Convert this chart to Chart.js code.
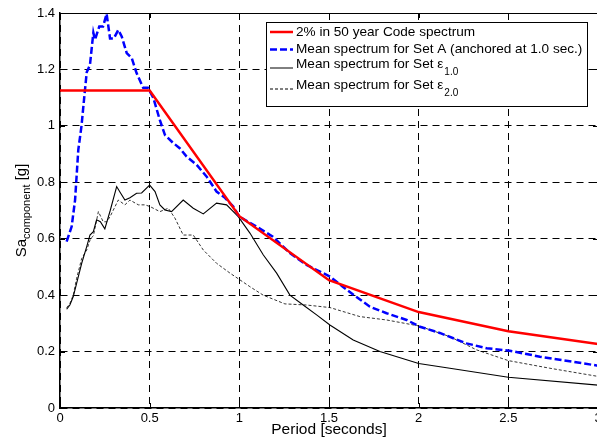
<!DOCTYPE html>
<html>
<head>
<meta charset="utf-8">
<script src="https://cdn.jsdelivr.net/npm/chart.js@4"></script>
<style>
  html, body { margin: 0; padding: 0; background: #fff; overflow: hidden; }
  #wrap { position: relative; width: 597px; height: 440px; overflow: hidden; }
  canvas { position: absolute; left: 0; top: 0; }
</style>
</head>
<body>
<div id="wrap"><canvas id="chartSpektrum" width="610" height="440"></canvas></div>
<script>
// Data spektrum (periode dalam detik, Sa dalam g)
const codeT  = [0, 0.5, 1.0, 1.5, 2.0, 2.5, 3.0];
const codeSa = [1.125, 1.125, 0.68, 0.453, 0.34, 0.272, 0.227];

const setAT  = [0.037, 0.065, 0.084, 0.102, 0.12, 0.135, 0.149, 0.167, 0.186, 0.195, 0.219, 0.24, 0.26, 0.279, 0.30, 0.325, 0.344, 0.372, 0.40, 0.427, 0.464, 0.49, 0.52, 0.557, 0.585, 0.63, 0.669, 0.706, 0.762, 0.818, 0.873, 0.92, 0.966, 1.0, 1.096, 1.187, 1.282, 1.375, 1.505, 1.577, 1.65, 1.728, 1.821, 1.933, 2.007, 2.118, 2.267, 2.379, 2.508, 2.676, 3.0];
const setASa = [0.59, 0.643, 0.737, 0.915, 1.0, 1.10, 1.19, 1.216, 1.33, 1.305, 1.352, 1.352, 1.397, 1.31, 1.31, 1.34, 1.317, 1.258, 1.24, 1.187, 1.135, 1.135, 1.10, 1.02, 0.968, 0.94, 0.92, 0.891, 0.862, 0.82, 0.767, 0.745, 0.714, 0.678, 0.643, 0.607, 0.549, 0.507, 0.466, 0.43, 0.395, 0.359, 0.336, 0.312, 0.288, 0.266, 0.229, 0.212, 0.203, 0.182, 0.15];

const eps1T  = [0.037, 0.055, 0.074, 0.093, 0.121, 0.149, 0.167, 0.186, 0.204, 0.225, 0.25, 0.28, 0.316, 0.335, 0.362, 0.39, 0.427, 0.455, 0.5, 0.53, 0.557, 0.585, 0.622, 0.687, 0.743, 0.799, 0.873, 0.929, 0.994, 1.059, 1.133, 1.208, 1.282, 1.356, 1.431, 1.505, 1.635, 1.784, 2.0, 2.174, 2.5, 3.0];
const eps1Sa = [0.35, 0.365, 0.395, 0.443, 0.513, 0.572, 0.613, 0.625, 0.667, 0.66, 0.635, 0.70, 0.785, 0.765, 0.737, 0.745, 0.761, 0.762, 0.79, 0.767, 0.72, 0.702, 0.696, 0.737, 0.708, 0.688, 0.726, 0.72, 0.678, 0.62, 0.543, 0.478, 0.40, 0.365, 0.33, 0.294, 0.241, 0.20, 0.158, 0.141, 0.109, 0.081];

const eps2T  = [0.037, 0.055, 0.074, 0.093, 0.121, 0.149, 0.17, 0.186, 0.214, 0.241, 0.26, 0.279, 0.325, 0.362, 0.39, 0.437, 0.474, 0.502, 0.557, 0.604, 0.641, 0.687, 0.743, 0.799, 0.873, 0.948, 1.059, 1.133, 1.254, 1.375, 1.505, 1.672, 1.821, 2.0, 2.174, 2.323, 2.5, 2.731, 3.0];
const eps2Sa = [0.355, 0.37, 0.40, 0.46, 0.53, 0.56, 0.60, 0.61, 0.696, 0.66, 0.66, 0.678, 0.737, 0.72, 0.737, 0.72, 0.72, 0.714, 0.696, 0.708, 0.673, 0.613, 0.613, 0.56, 0.513, 0.478, 0.43, 0.40, 0.369, 0.365, 0.356, 0.324, 0.312, 0.291, 0.253, 0.206, 0.168, 0.141, 0.112];

const xTicks = [0, 0.5, 1, 1.5, 2, 2.5, 3];
const yTicks = [0, 0.2, 0.4, 0.6, 0.8, 1, 1.2, 1.4];

// Fungsi untuk menggabungkan array x dan y jadi titik
function toPoints(xs, ys) {
  return xs.map((x, i) => ({ x: x, y: ys[i] }));
}

const FONT = 'Arial, "Liberation Sans", sans-serif';

// Legenda: teks utama dan subskrip (epsilon)
const legendItems = [
  { text: '2% in 50 year Code spectrum', sub: '', color: '#ff0000', width: 2.5, dash: [] },
  { text: 'Mean spectrum for Set A (anchored at 1.0 sec.)', sub: '', color: '#0000ff', width: 2.5, dash: [7, 3] },
  { text: 'Mean spectrum for Set \u03b5', sub: '1.0', color: '#000000', width: 1, dash: [] },
  { text: 'Mean spectrum for Set \u03b5', sub: '2.0', color: '#000000', width: 1, dash: [3, 2] }
];

// Plugin untuk bingkai, tick ke dalam, judul sumbu dan legenda gaya MATLAB
const matlabStyle = {
  id: 'matlabStyle',
  afterDraw(chart) {
    const ctx = chart.ctx;
    const area = chart.chartArea;
    const xs = chart.scales.x;
    const ys = chart.scales.y;
    ctx.save();

    // bingkai atas dan kanan
    ctx.strokeStyle = '#000';
    ctx.lineWidth = 1;
    ctx.setLineDash([]);
    ctx.beginPath();
    ctx.moveTo(area.left, area.top + 0.5);
    ctx.lineTo(area.right, area.top + 0.5);
    ctx.moveTo(area.right - 0.5, area.top);
    ctx.lineTo(area.right - 0.5, area.bottom);
    ctx.stroke();

    // tick ke dalam
    ctx.beginPath();
    xTicks.forEach(v => {
      const px = Math.round(xs.getPixelForValue(v)) + 0.5;
      ctx.moveTo(px, area.bottom); ctx.lineTo(px, area.bottom - 5);
      ctx.moveTo(px, area.top); ctx.lineTo(px, area.top + 5);
    });
    yTicks.forEach(v => {
      const py = Math.round(ys.getPixelForValue(v)) + 0.5;
      ctx.moveTo(area.left, py); ctx.lineTo(area.left + 5, py);
      ctx.moveTo(area.right, py); ctx.lineTo(area.right - 5, py);
    });
    ctx.stroke();

    // judul sumbu x
    ctx.fillStyle = '#000';
    ctx.font = '15.5px ' + FONT;
    ctx.textAlign = 'center';
    ctx.textBaseline = 'alphabetic';
    ctx.fillText('Period [seconds]', (area.left + area.right) / 2, 434);

    // judul sumbu y dengan subskrip
    ctx.save();
    ctx.translate(26, (area.top + area.bottom) / 2);
    ctx.rotate(-Math.PI / 2);
    const main1 = 'Sa', sub1 = 'component', main2 = ' [g]';
    ctx.font = '15px ' + FONT;
    const w1 = ctx.measureText(main1).width;
    const w3 = ctx.measureText(main2).width;
    ctx.font = '11px ' + FONT;
    const w2 = ctx.measureText(sub1).width;
    let sx = -(w1 + w2 + w3) / 2;
    ctx.textAlign = 'left';
    ctx.font = '15px ' + FONT;
    ctx.fillText(main1, sx, 0);
    sx += w1;
    ctx.font = '11px ' + FONT;
    ctx.fillText(sub1, sx, 4);
    sx += w2;
    ctx.font = '15px ' + FONT;
    ctx.fillText(main2, sx, 0);
    ctx.restore();

    // legenda
    const lx = 266.5, ly = 22.5, lw = 321, lh = 84;
    ctx.fillStyle = '#fff';
    ctx.fillRect(lx, ly, lw, lh);
    ctx.strokeStyle = '#000';
    ctx.lineWidth = 1;
    ctx.strokeRect(lx, ly, lw, lh);
    const rowsY = [32, 49.5, 68, 89];
    legendItems.forEach((item, i) => {
      const y = rowsY[i];
      ctx.strokeStyle = item.color;
      ctx.lineWidth = item.width;
      ctx.setLineDash(item.dash);
      ctx.beginPath();
      ctx.moveTo(270, y);
      ctx.lineTo(293, y);
      ctx.stroke();
      ctx.setLineDash([]);
      ctx.fillStyle = '#000';
      ctx.font = '13.6px ' + FONT;
      ctx.textAlign = 'left';
      ctx.textBaseline = 'middle';
      const tyOff = item.sub ? -4 : 0;
      ctx.fillText(item.text, 296, y + tyOff);
      if (item.sub) {
        const tw = ctx.measureText(item.text).width;
        ctx.font = '10px ' + FONT;
        ctx.fillText(item.sub, 296 + tw + 1, y + 4);
      }
    });
    ctx.restore();
  }
};

const ctx = document.getElementById('chartSpektrum').getContext('2d');
const myChart = new Chart(ctx, {
  type: 'line',
  data: {
    datasets: [
      {
        label: '2% in 50 year Code spectrum',
        data: toPoints(codeT, codeSa),
        borderColor: '#ff0000',
        borderWidth: 2.5,
        pointRadius: 0,
        tension: 0
      },
      {
        label: 'Mean spectrum for Set A (anchored at 1.0 sec.)',
        data: toPoints(setAT, setASa),
        borderColor: '#0000ff',
        borderWidth: 2.5,
        borderDash: [7, 3],
        pointRadius: 0,
        tension: 0
      },
      {
        label: 'Mean spectrum for Set e1.0',
        data: toPoints(eps1T, eps1Sa),
        borderColor: '#000000',
        borderWidth: 1.1,
        pointRadius: 0,
        tension: 0
      },
      {
        label: 'Mean spectrum for Set e2.0',
        data: toPoints(eps2T, eps2Sa),
        borderColor: '#000000',
        borderWidth: 0.8,
        borderDash: [3, 2],
        pointRadius: 0,
        tension: 0
      }
    ]
  },
  options: {
    responsive: false,
    animation: false,
    layout: { padding: { left: 0, top: 13, right: 12, bottom: 0 } },
    plugins: {
      legend: { display: false },
      tooltip: { enabled: false },
      title: { display: false }
    },
    scales: {
      x: {
        type: 'linear',
        min: 0,
        max: 3,
        afterFit: s => { s.height = 32; },
        afterBuildTicks: s => { s.ticks = xTicks.map(v => ({ value: v })); },
        ticks: {
          color: '#000',
          font: { size: 13, family: FONT },
          padding: 3,
          maxRotation: 0,
          callback: v => String(v)
        },
        grid: { color: '#000', lineWidth: 1, drawTicks: false },
        border: { display: true, color: '#000', width: 1.5, dash: [7, 5] }
      },
      y: {
        min: 0,
        max: 1.4,
        afterFit: s => { s.width = 60; },
        afterBuildTicks: s => { s.ticks = yTicks.map(v => ({ value: v })); },
        ticks: {
          color: '#000',
          font: { size: 13, family: FONT },
          padding: 5,
          callback: v => String(Math.round(v * 10) / 10)
        },
        grid: { color: '#000', lineWidth: 1, drawTicks: false },
        border: { display: true, color: '#000', width: 1.5, dash: [7, 5] }
      }
    }
  },
  plugins: [matlabStyle]
});
</script>
</body>
</html>
